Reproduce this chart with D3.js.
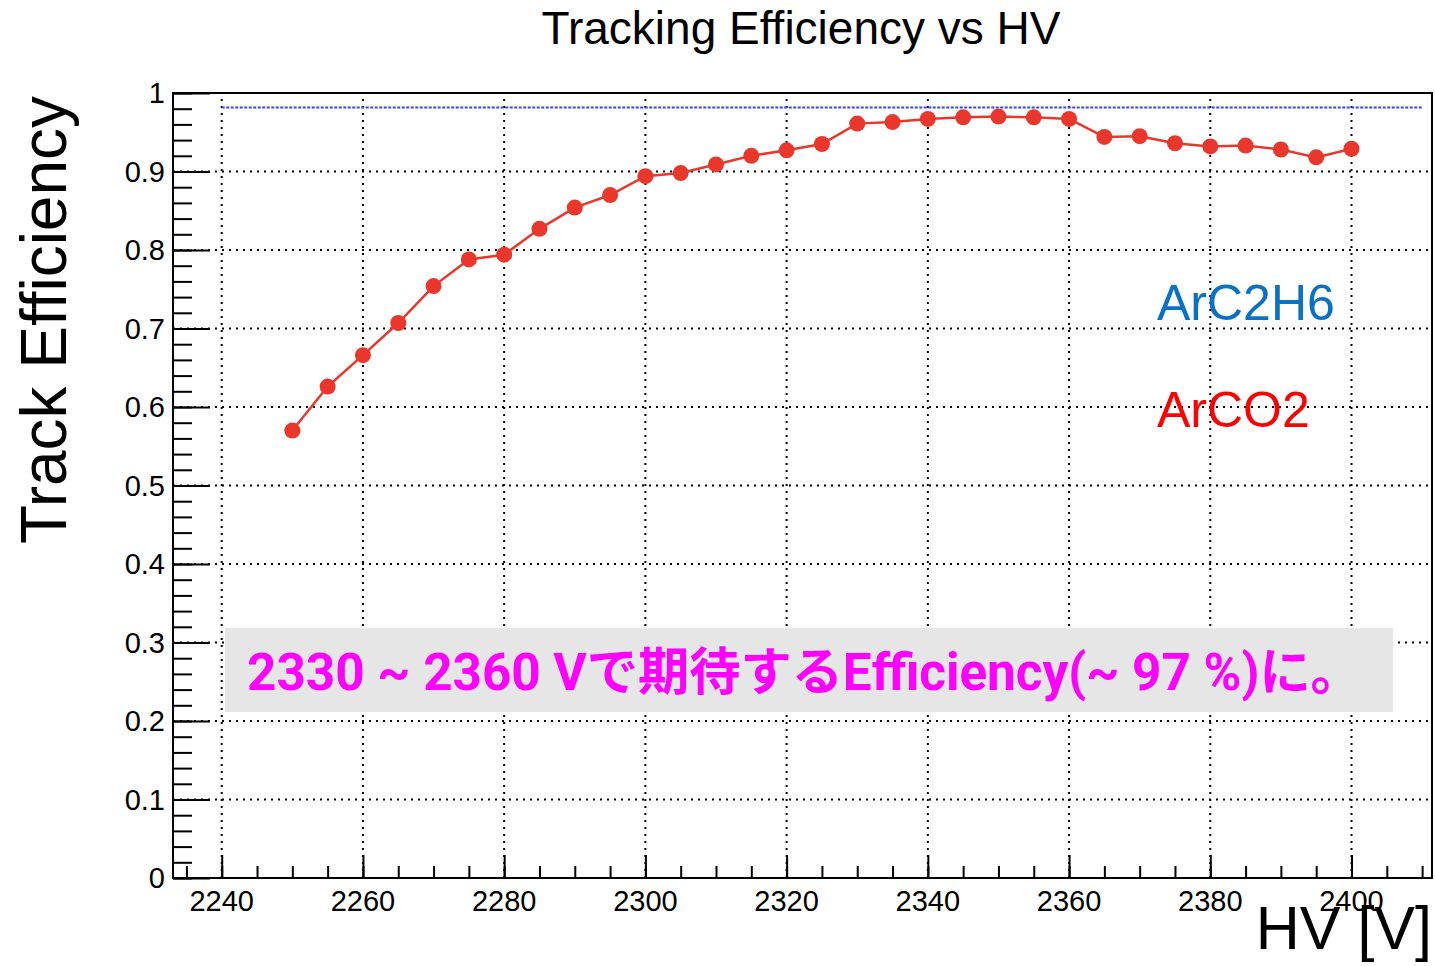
<!DOCTYPE html>
<html>
<head>
<meta charset="utf-8">
<script src="https://cdn.jsdelivr.net/npm/d3@7"></script>
<style>
  body { margin: 0; background: #fff; }
  svg { display: block; font-family: "Liberation Sans", Arial, sans-serif; }
</style>
</head>
<body>
<div id="chart"></div>
<script>
// HV points (V) and ArCO2 tracking efficiency
const hv = [2250, 2255, 2260, 2265, 2270, 2275, 2280, 2285, 2290, 2295,
  2300, 2305, 2310, 2315, 2320, 2325, 2330, 2335, 2340, 2345,
  2350, 2355, 2360, 2365, 2370, 2375, 2380, 2385, 2390, 2395, 2400];
const effArCO2 = [0.570, 0.626, 0.666, 0.707, 0.754, 0.788, 0.794, 0.827, 0.854, 0.870,
  0.894, 0.898, 0.909, 0.920, 0.927, 0.935, 0.961, 0.963, 0.967, 0.969,
  0.970, 0.969, 0.967, 0.944, 0.945, 0.936, 0.932, 0.933, 0.928, 0.918, 0.929];
// ArC2H6 reference level
const refHV = [2240, 2410];
const refEff = [0.9815, 0.9815];

const xTicks = [2240, 2260, 2280, 2300, 2320, 2340, 2360, 2380, 2400];
const yTicks = [0, 0.1, 0.2, 0.3, 0.4, 0.5, 0.6, 0.7, 0.8, 0.9, 1];

const W = 1435, H = 966;
const pLeft = 173, pRight = 1432, pTop = 93, pBottom = 878;

const svg = d3.select("#chart").append("svg").attr("width", W).attr("height", H);

const x = d3.scaleLinear().domain([2233.1, 2411.4]).range([pLeft, pRight]);
const y = d3.scaleLinear().domain([0, 1]).range([pBottom, pTop]);

// grid
const grid = svg.append("g")
  .attr("stroke", "#000")
  .attr("stroke-width", 2)
  .attr("stroke-dasharray", "2,5");
grid.selectAll(".gx").data(xTicks).enter().append("line")
  .attr("x1", d => x(d)).attr("x2", d => x(d))
  .attr("y1", pBottom).attr("y2", pTop);
grid.selectAll(".gy").data(yTicks.filter(d => d > 0 && d < 1)).enter().append("line")
  .attr("x1", pLeft).attr("x2", pRight)
  .attr("y1", d => y(d)).attr("y2", d => y(d));

// frame
svg.append("rect")
  .attr("x", pLeft).attr("y", pTop)
  .attr("width", pRight - pLeft).attr("height", pBottom - pTop)
  .attr("fill", "none").attr("stroke", "#000").attr("stroke-width", 2);

// x axis: major + minor ticks
const xAxis = svg.append("g").attr("transform", "translate(0," + pBottom + ")");
xAxis.call(d3.axisTop(x).tickValues(d3.range(2235, 2411, 5)).tickSize(12).tickFormat(""));
xAxis.select(".domain").remove();
const xAxisMajor = svg.append("g").attr("transform", "translate(0," + pBottom + ")");
xAxisMajor.call(d3.axisTop(x).tickValues(xTicks).tickSize(23).tickFormat(""));
xAxisMajor.select(".domain").remove();

svg.append("g").selectAll("text").data(xTicks).enter().append("text")
  .attr("x", d => x(d)).attr("y", 911)
  .attr("text-anchor", "middle")
  .style("font-size", "29px")
  .text(d => d);

// y axis: major + minor ticks
const yAxis = svg.append("g").attr("transform", "translate(" + pLeft + ",0)");
yAxis.call(d3.axisRight(y).tickValues(d3.range(0, 1.001, 0.02)).tickSize(19).tickFormat(""));
yAxis.select(".domain").remove();
const yAxisMajor = svg.append("g").attr("transform", "translate(" + pLeft + ",0)");
yAxisMajor.call(d3.axisRight(y).tickValues(yTicks).tickSize(37).tickFormat(""));
yAxisMajor.select(".domain").remove();
svg.selectAll(".tick line").attr("stroke-width", 2);

svg.append("g").selectAll("text").data(yTicks).enter().append("text")
  .attr("x", 165).attr("y", d => y(d) + 10)
  .attr("text-anchor", "end")
  .style("font-size", "29px")
  .text(d => d3.format("~g")(d));

// ArC2H6 reference line
const ref = refHV.map((d, i) => [d, refEff[i]]);
svg.append("path")
  .attr("d", d3.line().x(d => x(d[0])).y(d => y(d[1]))(ref))
  .attr("fill", "none")
  .attr("stroke", "#3344ff")
  .attr("stroke-width", 2)
  .attr("stroke-dasharray", "3,1.5");

// ArCO2 curve
const pts = hv.map((d, i) => [d, effArCO2[i]]);
svg.append("path")
  .attr("d", d3.line().x(d => x(d[0])).y(d => y(d[1]))(pts))
  .attr("fill", "none")
  .attr("stroke", "#e9382b")
  .attr("stroke-width", 2.5);
svg.append("g").selectAll("circle").data(pts).enter().append("circle")
  .attr("cx", d => x(d[0])).attr("cy", d => y(d[1]))
  .attr("r", 8)
  .attr("fill", "#e9382b");

// legend texts
svg.append("text").attr("x", 1157).attr("y", 320)
  .style("font-size", "50px").attr("fill", "#0a72c6").text("ArC2H6");
svg.append("text").attr("x", 1157).attr("y", 427)
  .style("font-size", "50px").attr("fill", "#ff0000").text("ArCO2");

// annotation box
svg.append("rect")
  .attr("x", 225).attr("y", 628).attr("width", 1168).attr("height", 84)
  .attr("fill", "#e6e6e6");
const note = svg.append("text")
  .attr("x", 247).attr("y", 690)
  .style("font-family", "Roboto, 'Noto Sans CJK JP', sans-serif")
  .style("font-weight", "bold")
  .style("font-size", "46px")
  .attr("fill", "#ff00ff")
  .text("2330 ~ 2360 Vで期待するEfficiency(~ 97 %)に。");
const w = note.node().getComputedTextLength();
note.style("font-size", (46 * 1115 / w) + "px");

// titles
svg.append("text").attr("x", 801).attr("y", 44)
  .attr("text-anchor", "middle")
  .style("font-size", "46px")
  .text("Tracking Efficiency vs HV");

svg.append("text")
  .attr("transform", "translate(66,320) rotate(-90)")
  .attr("text-anchor", "middle")
  .style("font-size", "64px")
  .text("Track Efficiency");

svg.append("text").attr("x", 1432).attr("y", 949)
  .attr("text-anchor", "end")
  .style("font-size", "61px")
  .text("HV [V]");
</script>
</body>
</html>
